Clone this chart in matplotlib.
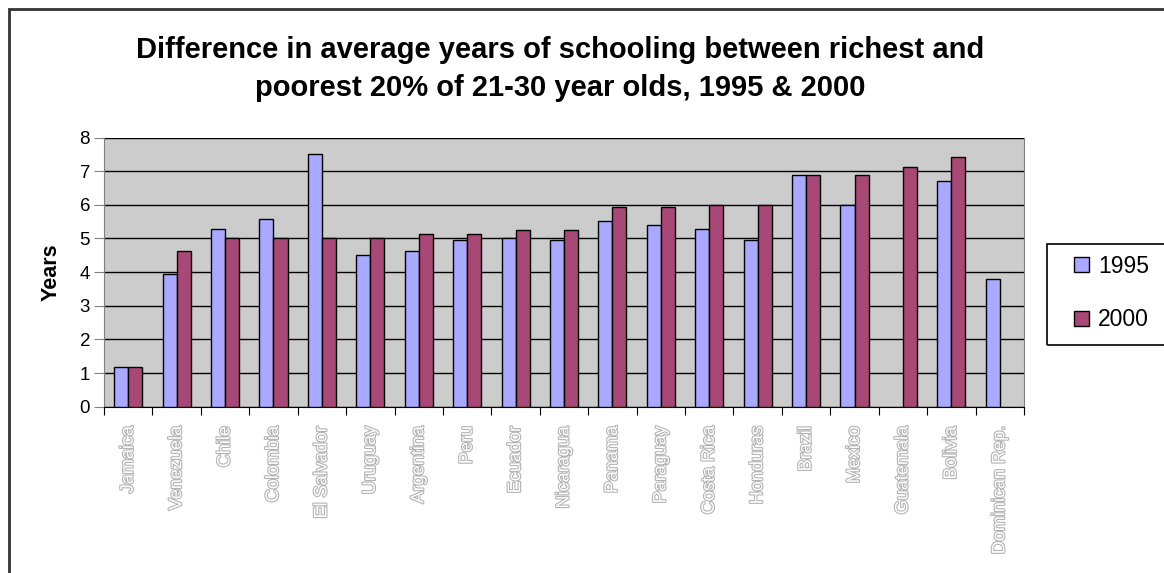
import matplotlib
matplotlib.use("Agg")
import matplotlib.pyplot as plt
import matplotlib.patheffects as pe
import numpy as np

countries = ["Jamaica", "Venezuela", "Chile", "Colombia", "El Salvador", "Uruguay",
             "Argentina", "Peru", "Ecuador", "Nicaragua", "Panama", "Paraguay",
             "Costa Rica", "Honduras", "Brazil", "Mexico", "Guatemala", "Bolivia",
             "Dominican Rep."]
years_1995 = [1.17, 3.93, 5.29, 5.59, 7.52, 4.52, 4.64, 4.94, 5.0, 4.94,
              5.53, 5.41, 5.29, 4.94, 6.88, 6.0, np.nan, 6.71, 3.8]
years_2000 = [1.17, 4.64, 5.0, 5.0, 5.0, 5.0, 5.12, 5.12, 5.24, 5.24,
              5.94, 5.94, 6.0, 6.0, 6.88, 6.88, 7.12, 7.41, np.nan]
yticks = [0, 1, 2, 3, 4, 5, 6, 7, 8]

plt.rcParams['font.family'] = ['Liberation Sans', 'DejaVu Sans']

W, H = 1164, 573
fig = plt.figure(figsize=(W / 100, H / 100), dpi=100)
ax = fig.add_axes([104 / W, 1 - 406.7 / H, 920 / W, 269.2 / H])

x = np.arange(len(countries))
w = 0.29
ax.bar(x - w / 2, years_1995, w, color="#A9AAFF", edgecolor="black", linewidth=1, label="1995", zorder=3)
ax.bar(x + w / 2, years_2000, w, color="#A84876", edgecolor="black", linewidth=1, label="2000", zorder=3)

ax.set_facecolor("#CCCCCC")
ax.set_xlim(-0.5, len(countries) - 0.5)
ax.set_ylim(0, 8)
ax.set_yticks(yticks)
ax.yaxis.grid(True, color="black", linewidth=1, zorder=1)
ax.set_axisbelow(True)
ax.tick_params(axis='y', labelsize=13.5, length=7, color="#808080", pad=3)

# ticks between categories, labels at category centres
ax.set_xticks(np.arange(len(countries) + 1) - 0.5)
ax.set_xticklabels([])
ax.set_xticks(x, minor=True)
ax.set_xticklabels(countries, minor=True, rotation=90, fontsize=13, va="top",
                   color="white",
                   path_effects=[pe.Stroke(linewidth=1.6, foreground="#b4b4b4"), pe.Normal()])
ax.tick_params(axis='x', which='major', length=6, color="black")
ax.tick_params(axis='x', which='minor', length=0, pad=14)

for s in ["left", "right"]:
    ax.spines[s].set_color("#808080")
ax.spines["bottom"].set_color("black")
ax.spines["top"].set_visible(False)

ax.set_ylabel("Years", fontsize=15.5, fontweight="bold", labelpad=13)

fig.text(0.481, 1 - 69 / H, "Difference in average years of schooling between richest and\npoorest 20% of 21-30 year olds, 1995 & 2000",
         ha="center", va="center", fontsize=21, fontweight="bold", linespacing=1.42)

# legend: box drawn separately, running off the right edge
leg = fig.legend(loc="center left", bbox_to_anchor=(1063 / W, 1 - 293 / H), fontsize=16.5,
                 frameon=False, handlelength=0.62, handleheight=0.62,
                 handletextpad=0.4, labelspacing=1.35, borderpad=0)
fig.patches.append(plt.Rectangle((1047 / W, 1 - 345 / H), 140 / W, 101 / H,
                                 transform=fig.transFigure, fill=False,
                                 edgecolor="black", linewidth=1.2))

# chart frame
fig.patches.append(plt.Rectangle((9 / W, -0.05), 1.2, 1 - 9 / H + 0.05, transform=fig.transFigure,
                                 fill=False, edgecolor="#333333", linewidth=2))

fig.savefig("out.png", dpi=100)
